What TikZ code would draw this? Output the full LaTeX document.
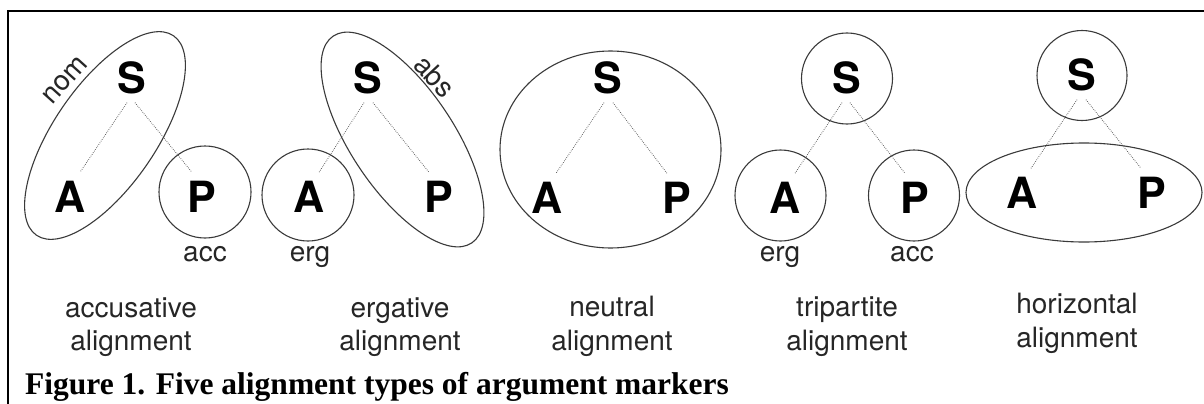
\documentclass[tikz,border=0pt]{standalone}
\usepackage{fontspec}
\setmainfont{Liberation Serif}
\newfontfamily\helv{TeX Gyre Heros}
\usetikzlibrary{shapes.geometric}
\definecolor{ringc}{HTML}{3A3A3A}
\definecolor{dotc}{HTML}{555555}
\definecolor{txtc}{HTML}{262626}
\begin{document}
\begin{tikzpicture}[x=1pt,y=-1pt,
  letter/.style={font=\helv\bfseries\fontsize{43}{43}\selectfont, text height=31pt, text depth=0pt, inner xsep=0pt, inner ysep=9pt},
  ring/.style={draw=ringc, line width=1.1pt, circle, inner sep=0pt, minimum size=#1},
  oval/.style={draw=ringc, line width=1.1pt, ellipse, inner sep=0pt},
  dotline/.style={draw=dotc, line width=0.8pt, dash pattern=on 0.7pt off 1.3pt},
  casel/.style={font=\helv\fontsize{28}{34}\selectfont, text=txtc, inner sep=0pt},
  lbl/.style={font=\helv\fontsize{28}{34}\selectfont, text=txtc, inner sep=0pt, anchor=base},
]
\useasboundingbox (0,0) rectangle (1204,404);
% frame
\draw[line width=2.3pt] (8,404) -- (8,11) -- (1204,11);

% ---------- panel 1: accusative
\node[oval, minimum width=242pt, minimum height=102pt, rotate=55.5] (E1) at (105,135.5) {};
\node[ring=92pt] (cP1) at (205,192) {};
\node[letter] (S1) at (132,78) {S};
\node[letter] (A1) at (70,197) {A};
\node[letter] (P1) at (202,197) {P};
\draw[dotline] ([xshift=-5pt]S1.south) -- ([xshift=10pt]A1.north);
\draw[dotline] ([xshift=3pt]S1.south) -- ([xshift=-10pt]P1.north);
\node[casel, rotate=48] (nom) at (65,80) {nom};
\node[casel, anchor=base] (acc1) at (205,261) {acc};
\node[lbl] (l1a) at (131,317) {accusative};
\node[lbl] (l1b) at (131,350) {alignment};

% ---------- panel 2: ergative
\node[oval, minimum width=249pt, minimum height=103pt, rotate=-56.2] (E2) at (402.5,139.5) {};
\node[ring=92pt] (cA2) at (308,195) {};
\node[letter] (S2) at (368,78) {S};
\node[letter] (A2) at (309,197) {A};
\node[letter] (P2) at (439,197) {P};
\draw[dotline] ([xshift=-4pt]S2.south) -- ([xshift=10pt]A2.north);
\draw[dotline] ([xshift=5pt]S2.south) -- ([xshift=-10pt]P2.north);
\node[casel, rotate=-47] (abs) at (435,76) {abs};
\node[casel, anchor=base] (erg2) at (310,261) {erg};
\node[lbl] (l2a) at (400,317) {ergative};
\node[lbl] (l2b) at (400,350) {alignment};

% ---------- panel 3: neutral
\node[oval, minimum width=221pt, minimum height=197pt] (E3) at (610.5,149.5) {};
\node[letter] (S3) at (608,78) {S};
\node[letter] (A3) at (547,198) {A};
\node[letter] (P3) at (677,198) {P};
\draw[dotline] ([xshift=-4pt]S3.south) -- ([xshift=9pt]A3.north);
\draw[dotline] ([xshift=5pt]S3.south) -- ([xshift=-10pt]P3.north);
\node[lbl] (l3a) at (612,316) {neutral};
\node[lbl] (l3b) at (612,350) {alignment};

% ---------- panel 4: tripartite
\node[ring=91pt] (cS4) at (847,78.5) {};
\node[ring=91pt] (cA4) at (780.5,195.5) {};
\node[ring=91pt] (cP4) at (914,195.5) {};
\node[letter] (S4) at (847,78) {S};
\node[letter] (A4) at (785,198) {A};
\node[letter] (P4) at (915,198) {P};
\draw[dotline] ([xshift=-5pt]S4.south) -- ([xshift=10pt]A4.north);
\draw[dotline] ([xshift=3pt]S4.south) -- ([xshift=-10pt]P4.north);
\node[casel, anchor=base] (erg4) at (780,261) {erg};
\node[casel, anchor=base] (acc4) at (912,261) {acc};
\node[lbl] (l4a) at (847,316) {tripartite};
\node[lbl] (l4b) at (847,350) {alignment};

% ---------- panel 5: horizontal
\node[ring=90pt] (cS5) at (1082,75.5) {};
\node[oval, minimum width=236pt, minimum height=99pt] (E5) at (1084,192.5) {};
\node[letter] (S5) at (1082,75) {S};
\node[letter] (A5) at (1022,193) {A};
\node[letter] (P5) at (1152,193) {P};
\draw[dotline] ([xshift=-5pt]S5.south) -- ([xshift=9pt]A5.north);
\draw[dotline] ([xshift=4pt]S5.south) -- ([xshift=-11pt]P5.north);
\node[lbl] (l5a) at (1077,313) {horizontal};
\node[lbl] (l5b) at (1077,347) {alignment};

% caption
\node[anchor=base west, inner sep=0pt, font=\bfseries\fontsize{31.5}{36}\selectfont] (cap) at (25,394) {Figure 1. Five alignment types of argument markers};
\end{tikzpicture}
\end{document}
